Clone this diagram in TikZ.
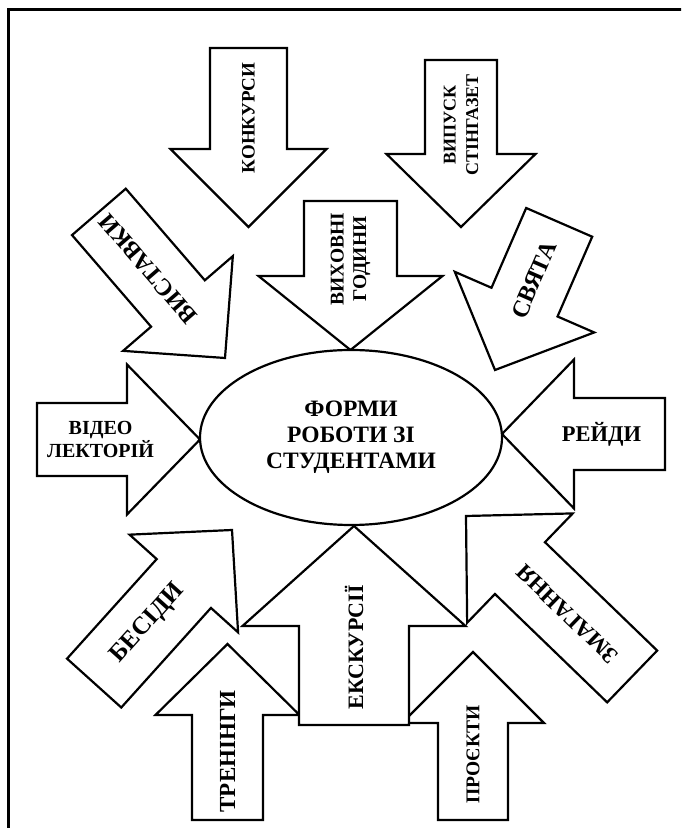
\documentclass[tikz,border=0pt]{standalone}
\usepackage{fontspec}
\setmainfont{Liberation Serif}
\usetikzlibrary{shapes.geometric}
\tikzset{
    formbox/.style={draw, fill=white, line width=2.2pt},
    formtxt/.style={font=\bfseries\fontsize{19}{22}\selectfont, align=center, inner sep=0pt},
    fs/.style={font=\bfseries\fontsize{#1}{22.5}\selectfont},
    centre/.style={draw, ellipse, fill=white, line width=2.2pt, minimum width=302pt, minimum height=175pt,
        inner sep=0pt, align=center, font=\bfseries\fontsize{23.5}{26}\selectfont}
}
% #1 label options, #2 name, #3 tip, #4 angle, #5 length, #6 shaft, #7 head width, #8 head length, #9 text
\newcommand{\formarrow}[9][]{%
    \begin{scope}[shift={#3}, rotate=#4]
    \draw[formbox] (0,0) -- (-#8,#7/2) -- (-#8,#6/2) -- (-#5,#6/2) -- (-#5,-#6/2)
        -- (-#8,-#6/2) -- (-#8,-#7/2) -- cycle;
    \node[formtxt, rotate=#4, #1] (#2) at (-0.61*#5,0) {#9};
    \end{scope}
}

\begin{document}
\begin{tikzpicture}[x=1pt, y=1pt]
    \useasboundingbox (0,0) rectangle (681,828);
    \clip (0,0) rectangle (681,828);
    \draw[line width=3pt] (8,-20) rectangle (700,818);
    % upper arrows
    \formarrow[rotate=180, fs=24]{vystavky}{(225,470)}{-49.2}{193}{71}{145}{72}{ВИСТАВКИ}
    \formarrow[rotate=180, fs=19]{konkursy}{(248.5,601)}{-90}{179}{77}{156}{78}{КОНКУРСИ}
    \formarrow[rotate=180, fs=18]{vypusk}{(461,601)}{-90}{167}{72}{149}{73}{ВИПУСК\\СТІНГАЗЕТ}
    \formarrow[rotate=180, fs=19.5]{vykhovni}{(350.5,478)}{-90}{149}{93}{184}{74}{ВИХОВНІ\\ГОДИНИ}
    \formarrow[rotate=180, fs=24]{sviata}{(495,458)}{-113.5}{161}{72}{152}{74}{СВЯТА}
    % side arrows
    \formarrow[fs=20]{video}{(200,388.5)}{0}{163}{73}{150}{73}{ВІДЕО\\ЛЕКТОРІЙ}
    \formarrow[rotate=180, fs=22.5]{reidy}{(502,394)}{180}{163}{72}{149}{72}{РЕЙДИ}
    % lower arrows
    \formarrow[fs=25]{besidy}{(232,298)}{48}{206}{73}{146}{72}{БЕСІДИ}
    \formarrow[fs=23]{zmagannia}{(466,312)}{136}{231}{72}{152}{75}{ЗМАГАННЯ}
    \formarrow[fs=19.5]{proekty}{(473,176)}{90}{168}{70}{142}{71}{ПРОЄКТИ}
    \formarrow[fs=23]{treningy}{(227.5,184)}{90}{176}{71}{144}{71}{ТРЕНІНГИ}
    \formarrow[fs=22]{ekskursii}{(354,302)}{90}{199}{110}{223}{100}{ЕКСКУРСІЇ}
    \node[centre] (forms) at (351,390.5) {ФОРМИ\\РОБОТИ ЗІ\\СТУДЕНТАМИ};
\end{tikzpicture}
\end{document}
